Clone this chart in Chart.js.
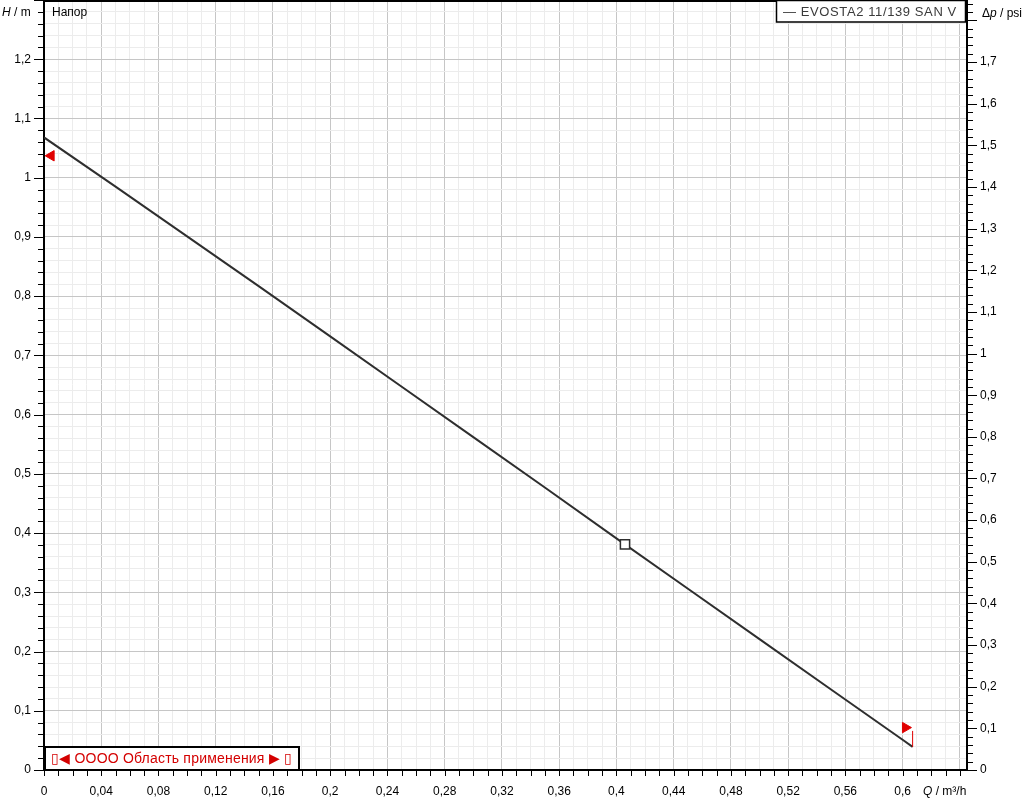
<!DOCTYPE html>
<html>
<head>
<meta charset="utf-8">
<title>EVOSTA2 11/139 SAN V</title>
<script src="https://cdn.jsdelivr.net/npm/chart.js@4.4.1/dist/chart.umd.min.js"></script>
<style>
  html, body { margin: 0; padding: 0; background: #fff; }
  #wrap { width: 1024px; height: 800px; position: relative; }
</style>
</head>
<body>
<div id="wrap"><canvas id="pumpChart" width="1024" height="800"></canvas></div>
<script>
// pump curve (Q in m³/h, H in m)
const flowQ = [0, 0.05, 0.1, 0.15, 0.2, 0.25, 0.3, 0.35, 0.4, 0.45, 0.5, 0.55, 0.6, 0.607];
const headH = [1.068, 0.985, 0.901, 0.817, 0.732, 0.647, 0.562, 0.477, 0.391, 0.306, 0.221, 0.136, 0.051, 0.039];

// duty point (square)
const dutyQ = [0.406];
const dutyH = [0.381];

// application range markers
const rangeStartQ = [0.005];
const rangeStartH = [1.037];
const rangeEndQ = [0.602];
const rangeEndH = [0.0716];
const limitQ = [0.607, 0.607];
const limitH = [0.039, 0.066];

// axes
const qMin = 0, qMax = 0.645, qStep = 0.01;
const hMin = 0, hMax = 1.3, hStep = 0.02;
const psiPerMetre = 1.42233;
const psiStep = 0.02;

const seriesName = 'EVOSTA2 11/139 SAN V';
const rangeLabel = '\u25AF\u25C0 ОООО Область применения \u25B6 \u25AF';
const headTitle = 'Напор';

const fontFamily = '"Liberation Sans", Arial, sans-serif';
const majorGrid = '#c6c6c6';
const minorGrid = '#ececec';

function toPoints(xs, ys) {
  return xs.map((x, i) => ({ x: x, y: ys[i] }));
}

function fmtComma(v, digits) {
  const f = Math.pow(10, digits);
  return String(Math.round(v * f) / f).replace('.', ',');
}

function isMajorX(v) { return Math.round(v * 100) % 4 === 0; }
function isMajorY(v) { return Math.round(v * 100) % 10 === 0; }

function tickLabel(value, every, last, digits) {
  const n = Math.round(value * 100);
  if (n % every !== 0 || n > last) return '';
  return fmtComma(value, digits);
}

// fixed axis sizes, no extra room kept for edge labels
function pinScale(scale, size) {
  if (scale.isHorizontal()) scale.height = size;
  else scale.width = size;
  scale.paddingTop = 0;
  scale.paddingBottom = 0;
  scale.paddingLeft = 0;
  scale.paddingRight = 0;
}

// custom ticks, frame, titles and the two boxes
const decorPlugin = {
  id: 'decor',
  afterDraw(chart) {
    const ctx = chart.ctx;
    const area = chart.chartArea;
    const sx = chart.scales.x, sy = chart.scales.y, sy1 = chart.scales.y1;
    ctx.save();
    ctx.strokeStyle = '#000';
    ctx.lineWidth = 1;
    ctx.beginPath();
    sx.ticks.forEach((t) => {
      const px = Math.round(sx.getPixelForValue(t.value)) + 0.5;
      ctx.moveTo(px, area.bottom);
      ctx.lineTo(px, area.bottom + 6);
    });
    sy.ticks.forEach((t) => {
      const py = Math.round(sy.getPixelForValue(t.value)) + 0.5;
      const len = isMajorY(t.value) ? 10 : 6;
      ctx.moveTo(area.left - len, py);
      ctx.lineTo(area.left, py);
    });
    sy1.ticks.forEach((t) => {
      const py = Math.round(sy1.getPixelForValue(t.value)) + 0.5;
      const len = isMajorY(t.value) ? 10 : 6;
      ctx.moveTo(area.right, py);
      ctx.lineTo(area.right + len, py);
    });
    ctx.stroke();

    // top frame
    ctx.fillStyle = '#000';
    ctx.fillRect(area.left, 0, area.right - area.left, 2);

    // axis titles
    ctx.textBaseline = 'middle';
    ctx.fillStyle = '#000';
    ctx.textAlign = 'left';
    let x = 2;
    ctx.font = 'italic 12px ' + fontFamily;
    ctx.fillText('H', x, 13);
    x += ctx.measureText('H').width;
    ctx.font = '12px ' + fontFamily;
    ctx.fillText(' / m', x, 13);

    ctx.fillText(headTitle, 52, 13);

    x = 982;
    ctx.fillText('\u0394', x, 14);
    x += ctx.measureText('\u0394').width;
    ctx.font = 'italic 12px ' + fontFamily;
    ctx.fillText('p', x, 14);
    x += ctx.measureText('p').width;
    ctx.font = '12px ' + fontFamily;
    ctx.fillText(' / psi', x, 14);

    x = 923;
    ctx.font = 'italic 12px ' + fontFamily;
    ctx.fillText('Q', x, 792);
    x += ctx.measureText('Q').width;
    ctx.font = '12px ' + fontFamily;
    ctx.fillText(' / m\u00B3/h', x, 792);

    // series legend box (top right)
    ctx.fillStyle = '#fff';
    ctx.fillRect(776, 1, 189, 21);
    ctx.strokeStyle = '#000';
    ctx.lineWidth = 1.5;
    ctx.strokeRect(776.5, 0.5, 189, 21.5);
    ctx.fillStyle = '#3a3a3a';
    ctx.font = '13px ' + fontFamily;
    ctx.letterSpacing = '0.6px';
    ctx.fillText('\u2014 ' + seriesName, 783, 12);

    // application range box (bottom left)
    ctx.fillStyle = '#fff';
    ctx.fillRect(45, 747, 254, 22);
    ctx.strokeStyle = '#000';
    ctx.lineWidth = 2;
    ctx.strokeRect(45, 747, 254, 23);
    ctx.fillStyle = '#d40000';
    ctx.font = '14px ' + fontFamily;
    ctx.letterSpacing = '0.2px';
    ctx.fillText(rangeLabel, 51, 759);
    ctx.restore();
  }
};

const ctx = document.getElementById('pumpChart').getContext('2d');
const pumpChart = new Chart(ctx, {
  type: 'scatter',
  data: {
    datasets: [
      {
        label: seriesName,
        data: toPoints(flowQ, headH),
        showLine: true,
        borderColor: '#2e2e2e',
        borderWidth: 2,
        pointRadius: 0,
        tension: 0,
        order: 3
      },
      {
        label: 'duty',
        data: toPoints(dutyQ, dutyH),
        pointStyle: 'rect',
        pointRadius: 6.5,
        pointBackgroundColor: '#fff',
        pointBorderColor: '#2e2e2e',
        pointBorderWidth: 1.5,
        order: 1
      },
      {
        label: 'limit',
        data: toPoints(limitQ, limitH),
        showLine: true,
        borderColor: '#e00000',
        borderWidth: 1,
        pointRadius: 0,
        order: 2
      },
      {
        label: 'start',
        data: toPoints(rangeStartQ, rangeStartH),
        pointStyle: 'triangle',
        rotation: 270,
        pointRadius: 6,
        pointBackgroundColor: '#e00000',
        pointBorderColor: '#e00000',
        order: 1
      },
      {
        label: 'end',
        data: toPoints(rangeEndQ, rangeEndH),
        pointStyle: 'triangle',
        rotation: 90,
        pointRadius: 6,
        pointBackgroundColor: '#e00000',
        pointBorderColor: '#e00000',
        order: 1
      }
    ]
  },
  options: {
    responsive: false,
    animation: false,
    devicePixelRatio: 1,
    layout: { padding: 0, autoPadding: false },
    plugins: {
      legend: { display: false },
      tooltip: { enabled: false }
    },
    scales: {
      x: {
        type: 'linear',
        position: 'bottom',
        min: qMin,
        max: qMax,
        afterFit: (scale) => pinScale(scale, 30),
        border: { color: '#000', width: 2 },
        grid: {
          drawTicks: false,
          lineWidth: 1,
          color: (c) => (c.tick && isMajorX(c.tick.value) ? majorGrid : minorGrid)
        },
        ticks: {
          stepSize: qStep,
          includeBounds: false,
          autoSkip: false,
          maxRotation: 0,
          padding: 14,
          color: '#000',
          font: { family: fontFamily, size: 12 },
          callback: (value) => tickLabel(value, 4, 60, 2)
        }
      },
      y: {
        type: 'linear',
        position: 'left',
        min: hMin,
        max: hMax,
        afterFit: (scale) => pinScale(scale, 44),
        border: { color: '#000', width: 2 },
        grid: {
          drawTicks: false,
          lineWidth: 1,
          color: (c) => (c.tick && isMajorY(c.tick.value) ? majorGrid : minorGrid)
        },
        ticks: {
          stepSize: hStep,
          includeBounds: false,
          autoSkip: false,
          padding: 13,
          color: '#000',
          font: { family: fontFamily, size: 12 },
          callback: (value) => tickLabel(value, 10, 120, 1)
        }
      },
      y1: {
        type: 'linear',
        position: 'right',
        min: hMin * psiPerMetre,
        max: hMax * psiPerMetre,
        afterFit: (scale) => pinScale(scale, 57),
        border: { color: '#000', width: 2 },
        grid: { drawTicks: false, drawOnChartArea: false },
        ticks: {
          stepSize: psiStep,
          includeBounds: false,
          autoSkip: false,
          padding: 13,
          color: '#000',
          font: { family: fontFamily, size: 12 },
          callback: (value) => tickLabel(value, 10, 170, 1)
        }
      }
    }
  },
  plugins: [decorPlugin]
});
</script>
</body>
</html>
